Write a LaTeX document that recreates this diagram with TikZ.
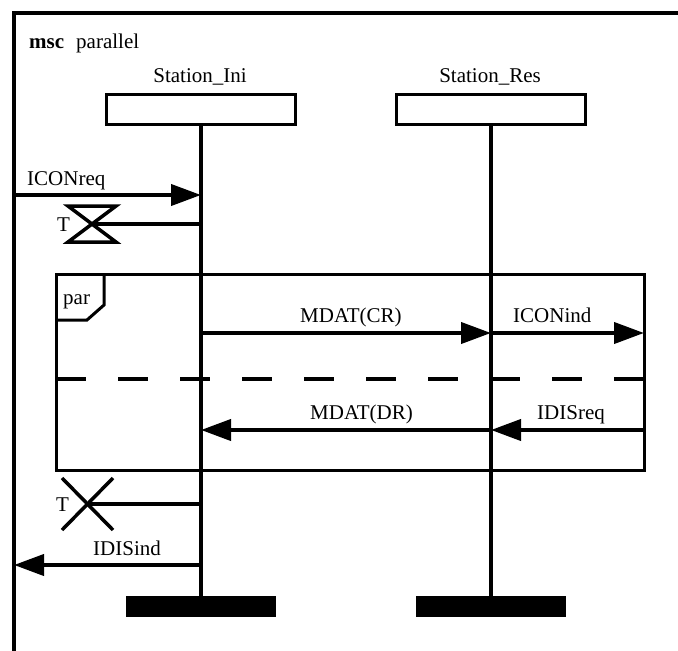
\documentclass[tikz,border=0pt]{standalone}
\usepackage{fontspec}
\setmainfont{Liberation Serif}
\usetikzlibrary{arrows.meta}
\begin{document}
\begin{tikzpicture}[x=1pt,y=-1pt,
    txt/.style={font=\fontsize{21}{25}\selectfont, inner sep=0pt, anchor=base west},
    msg/.style={line width=4pt, -{Triangle[length=30pt,width=21pt]}},
    head/.style={draw, line width=3.3pt, minimum width=189pt, minimum height=30pt, inner sep=0pt},
    endbar/.style={fill=black, minimum width=150pt, minimum height=21pt, inner sep=0pt}]
    \useasboundingbox (0,0) rectangle (678,651);
    % Frame
    \draw [line width=4pt] (14,651) -- (14,13) -- (678,13);
    \node [txt] (title) at (29,48) {\textbf{msc}\hspace{12pt}parallel};
    % Instances
    \node [head] (iniHead) at (201,109.5) {};
    \node [head] (resHead) at (491,109.5) {};
    \node [txt, anchor=base] (iniName) at (200,82) {Station\_Ini};
    \node [txt, anchor=base] (resName) at (490,82) {Station\_Res};
    \node [endbar] (iniEnd) at (201,606.5) {};
    \node [endbar] (resEnd) at (491,606.5) {};
    \draw [line width=4pt] (iniHead) -- (iniEnd);
    \draw [line width=4pt] (resHead) -- (resEnd);
    % Coordinate
    \coordinate (envIn) at (14,195);
    \coordinate (iniIn) at (201,195);
    \coordinate (timerSet) at (92,224);
    \coordinate (iniSet) at (201,224);
    \coordinate (iniCR) at (201,333);
    \coordinate (resCR) at (491,333);
    \coordinate (parCR) at (644,333);
    \coordinate (iniDR) at (201,430);
    \coordinate (resDR) at (491,430);
    \coordinate (parDR) at (644,430);
    \coordinate (timerOff) at (88,504);
    \coordinate (iniOff) at (201,504);
    \coordinate (iniOut) at (201,565);
    \coordinate (envOut) at (14,565);
    % par region
    \draw [line width=3pt] (56,274) rectangle (644,470);
    \draw [line width=3pt] (104,274) -- (104,305) -- (87,320) -- (56,320);
    \node [txt] (parName) at (63,304) {par};
    \draw [line width=4pt, dash pattern=on 30pt off 32pt] (56,379) -- (644,379);
    % Timers
    \draw [line width=3.5pt, line join=miter] (68,206) -- (116,206) -- (68,242) -- (116,242) -- cycle;
    \draw [line width=4pt] (timerSet) -- (iniSet);
    \node [txt] (setName) at (57,231) {T};
    \draw [line width=3.5pt] (62,478) -- (113,530);
    \draw [line width=3.5pt] (113,478) -- (62,530);
    \draw [line width=4pt] (timerOff) -- (iniOff);
    \node [txt] (offName) at (56,511) {T};
    % Messages
    \draw [msg] (envIn) -- (iniIn);
    \node [txt] (iconreq) at (27,185) {ICONreq};
    \draw [msg] (iniCR) -- (resCR);
    \node [txt] (mdatcr) at (300,322) {MDAT(CR)};
    \draw [msg] (resCR) -- (parCR);
    \node [txt] (iconind) at (513,322) {ICONind};
    \draw [msg] (resDR) -- (iniDR);
    \node [txt] (mdatdr) at (310,419) {MDAT(DR)};
    \draw [msg] (parDR) -- (resDR);
    \node [txt] (idisreq) at (537,419) {IDISreq};
    \draw [msg] (iniOut) -- (envOut);
    \node [txt] (idisind) at (93,555) {IDISind};
\end{tikzpicture}
\end{document}
